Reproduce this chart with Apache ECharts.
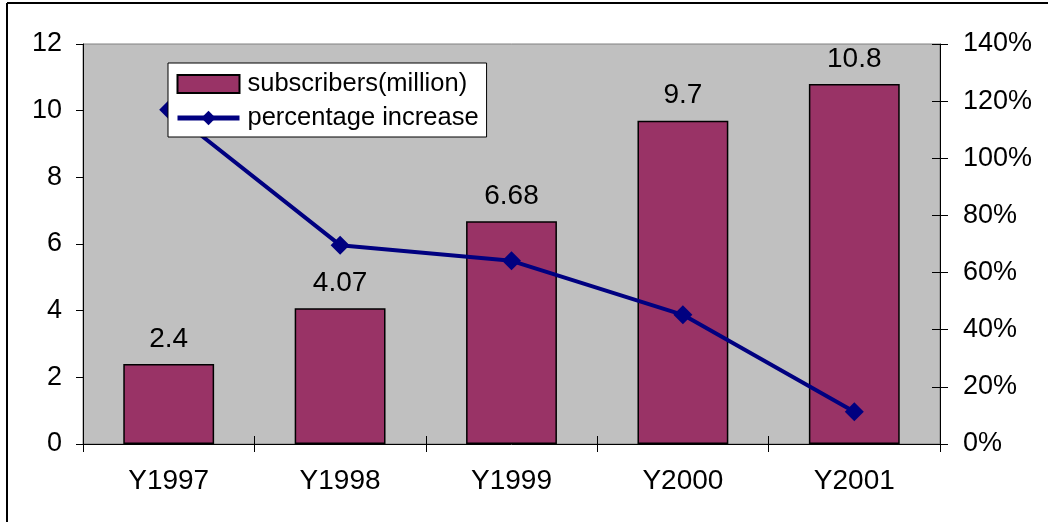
<!DOCTYPE html>
<html>
<head>
<meta charset="utf-8">
<script src="https://cdn.jsdelivr.net/npm/echarts@6/dist/echarts.min.js"></script>
<style>
  html, body { margin: 0; padding: 0; background: #ffffff; }
  #chart { width: 1048px; height: 522px; }
</style>
</head>
<body>
<div id="chart"></div>
<script>
// Subscribers per year (million) and year-on-year percentage increase
const years = ['Y1997', 'Y1998', 'Y1999', 'Y2000', 'Y2001'];
const subscribers = [2.4, 4.07, 6.68, 9.7, 10.8];
const pctIncrease = [117, 69.6, 64.1, 45.2, 11.3];

const FONT = 'Liberation Sans, Arial, sans-serif';

const chart = echarts.init(document.getElementById('chart'), null, { renderer: 'canvas' });

const gridRect = { left: 83, right: 108, top: 44, bottom: 78 };

chart.setOption({
  animation: false,
  backgroundColor: '#ffffff',
  textStyle: { fontFamily: FONT, color: '#000' },
  graphic: [
    { type: 'line', shape: { x1: 7, y1: 3, x2: 1048, y2: 3 }, style: { stroke: '#000', lineWidth: 2 } },
    { type: 'line', shape: { x1: 7, y1: 3, x2: 7, y2: 522 }, style: { stroke: '#000', lineWidth: 2 } }
  ],
  legend: {
    orient: 'vertical',
    left: 168,
    top: 63,
    padding: [8, 8, 6, 7],
    itemGap: 8,
    itemWidth: 62,
    itemHeight: 18,
    backgroundColor: '#ffffff',
    borderColor: '#000',
    borderWidth: 1,
    borderRadius: 0,
    textStyle: { fontFamily: FONT, fontSize: 25.5, color: '#000', padding: [0, 0, 0, 3] },
    data: [
      {
        name: 'subscribers(million)',
        icon: 'rect',
        itemStyle: { color: '#993366', borderColor: '#000', borderWidth: 2 }
      },
      {
        name: 'percentage increase',
        lineStyle: { color: '#000080', width: 5 },
        itemStyle: { color: '#000080' }
      }
    ]
  },
  grid: [
    Object.assign({ show: true, backgroundColor: '#c0c0c0', borderColor: '#808080', borderWidth: 1 }, gridRect),
    Object.assign({ show: false }, gridRect)
  ],
  xAxis: [
    {
      type: 'category',
      gridIndex: 0,
      data: years,
      axisLine: { lineStyle: { color: '#000', width: 1 } },
      axisTick: { show: true, length: 8, lineStyle: { color: '#000' } },
      axisLabel: { fontFamily: FONT, fontSize: 28, color: '#000', margin: 23 },
      splitLine: { show: false }
    },
    {
      type: 'category',
      gridIndex: 1,
      data: years,
      axisLine: { show: false },
      axisTick: { show: true, inside: true, length: 8, lineStyle: { color: '#000' } },
      axisLabel: { show: false },
      splitLine: { show: false }
    }
  ],
  yAxis: [
    {
      type: 'value',
      gridIndex: 0,
      position: 'left',
      min: 0, max: 12, interval: 2,
      axisLine: { show: true, lineStyle: { color: '#000', width: 1 } },
      axisTick: { show: true, length: 7, lineStyle: { color: '#000' } },
      axisLabel: { fontFamily: FONT, fontSize: 27, color: '#000', margin: 21 },
      splitLine: { show: false }
    },
    {
      type: 'value',
      gridIndex: 0,
      position: 'right',
      min: 0, max: 140, interval: 20,
      axisLine: { show: true, lineStyle: { color: '#000', width: 1 } },
      axisTick: { show: true, length: 8, lineStyle: { color: '#000' } },
      axisLabel: { fontFamily: FONT, fontSize: 27, color: '#000', margin: 23, formatter: '{value}%' },
      splitLine: { show: false }
    },
    {
      type: 'value',
      gridIndex: 1,
      position: 'right',
      min: 0, max: 140, interval: 20,
      axisLine: { show: false },
      axisTick: { show: true, inside: true, length: 8, lineStyle: { color: '#000' } },
      axisLabel: { show: false },
      splitLine: { show: false }
    }
  ],
  series: [
    {
      name: 'subscribers(million)',
      type: 'bar',
      xAxisIndex: 0,
      yAxisIndex: 0,
      data: subscribers,
      barWidth: '53%',
      itemStyle: { color: '#993366', borderColor: '#000', borderWidth: 1.5 },
      label: {
        show: true,
        position: 'top',
        distance: 11,
        fontFamily: FONT,
        fontSize: 28,
        color: '#000'
      }
    },
    {
      name: 'percentage increase',
      type: 'line',
      xAxisIndex: 0,
      yAxisIndex: 1,
      data: pctIncrease,
      symbol: 'diamond',
      symbolSize: 19,
      lineStyle: { color: '#000080', width: 4 },
      itemStyle: { color: '#000080' },
      z: 3
    }
  ]
});
</script>
</body>
</html>
